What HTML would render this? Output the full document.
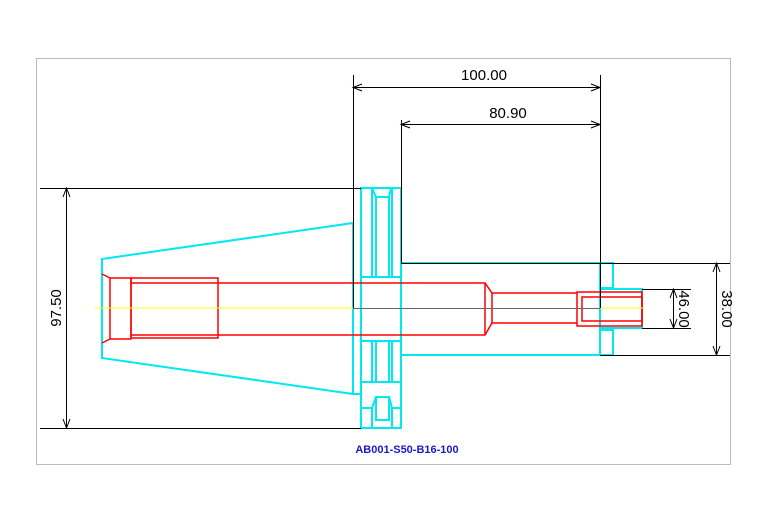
<!DOCTYPE html>
<html><head><style>body{margin:0;background:#fff}svg{display:block}</style></head><body>
<svg width="767" height="523" xmlns="http://www.w3.org/2000/svg" font-family="Liberation Sans, sans-serif">
<rect x="36.5" y="58.5" width="694" height="406" fill="none" stroke="#bbb"/>
<!-- cyan -->
<g fill="none" stroke="#00e8f0" stroke-width="2">
<polyline points="353,223 102,259 102,358 353,394"/>
<polyline points="353,223 353,394 361,394"/>
<rect x="361" y="188" width="40" height="240"/>
<polyline points="361,188 372,188 376,197 389,197 391,188"/>
<line x1="372" y1="188" x2="372" y2="277"/><line x1="376" y1="197" x2="376" y2="277"/>
<line x1="389" y1="197" x2="389" y2="277"/><line x1="392" y1="188" x2="392" y2="277"/>
<line x1="361" y1="277" x2="401" y2="277"/>
<line x1="361" y1="341" x2="401" y2="341"/><line x1="361" y1="382" x2="401" y2="382"/>
<line x1="372" y1="341" x2="372" y2="382"/><line x1="376" y1="341" x2="376" y2="382"/>
<line x1="389" y1="341" x2="389" y2="382"/><line x1="392" y1="341" x2="392" y2="382"/>
<polyline points="361,408 372,408 376,397 389,397 392,408 401,408"/>
<polyline points="372,408 372,428"/><polyline points="392,408 392,428"/>
<polyline points="376,397 376,420 389,420 389,397"/>
<line x1="401" y1="263" x2="600" y2="263"/>
<line x1="401" y1="355" x2="600" y2="355"/>
<polyline points="600,263 613,263 613,288 600,288"/>
<polyline points="600,330 613,330 613,355 600,355"/>
<polyline points="600,289 642,289 642,328 600,328"/>
<line x1="600" y1="263" x2="600" y2="355"/>
</g>
<!-- red -->
<g fill="none" stroke="#f00" stroke-width="1.5">
<rect x="110" y="278" width="21" height="61"/>
<rect x="131" y="278" width="87" height="60"/>
<line x1="102" y1="274" x2="110" y2="278"/><line x1="102" y1="343" x2="110" y2="339"/>
<polyline points="131,283 485,283 492,293 577,293"/>
<polyline points="131,335 485,335 492,323 577,323"/>
<line x1="485" y1="283" x2="485" y2="335"/><line x1="492" y1="293" x2="492" y2="323"/>
<rect x="577" y="292" width="65" height="34"/>
<rect x="582" y="297" width="60" height="24"/>
</g>
<!-- center -->
<line x1="95" y1="308" x2="353" y2="308" stroke="#ff0" stroke-width="1"/>
<line x1="600" y1="308" x2="644" y2="308" stroke="#ff0" stroke-width="1"/>
<g stroke="#000" stroke-width="1" fill="none">
<line x1="353" y1="308.5" x2="600" y2="308.5" stroke="#666"/>
<line x1="353.5" y1="75" x2="353.5" y2="308"/>
<line x1="600.5" y1="75" x2="600.5" y2="308"/>
<polyline points="401.5,120 401.5,263.5 600,263.5"/>
<line x1="40" y1="188.5" x2="361" y2="188.5"/>
<line x1="40" y1="428.5" x2="361" y2="428.5"/>
<line x1="66.5" y1="188" x2="66.5" y2="428"/>
<polyline points="63,197 66.5,188 70,197"/><polyline points="63,419 66.5,428 70,419"/>
<line x1="353" y1="87.5" x2="600" y2="87.5"/>
<polyline points="362,84 353,87.5 362,91"/><polyline points="591,84 600,87.5 591,91"/>
<line x1="401" y1="124.5" x2="600" y2="124.5"/>
<polyline points="410,121 401,124.5 410,128"/><polyline points="591,121 600,124.5 591,128"/>
<line x1="600" y1="263.5" x2="730" y2="263.5"/>
<line x1="600" y1="355.5" x2="730" y2="355.5"/>
<line x1="716.5" y1="263" x2="716.5" y2="355"/>
<polyline points="713,272 716.5,263 720,272"/><polyline points="713,346 716.5,355 720,346"/>
<line x1="642" y1="289.5" x2="691" y2="289.5"/>
<line x1="642" y1="328.5" x2="691" y2="328.5"/>
<line x1="673.5" y1="289" x2="673.5" y2="328"/>
<polyline points="670,298 673.5,289 677,298"/><polyline points="670,319 673.5,328 677,319"/>
</g>
<g font-size="15" fill="#000" text-anchor="middle">
<text x="484" y="80">100.00</text>
<text x="508" y="118">80.90</text>
<text transform="translate(61,308) rotate(-90)">97.50</text>
<text transform="translate(722,309) rotate(90)">38.00</text>
<text transform="translate(679,309) rotate(90)">46.00</text>
</g>
<text x="407" y="453" font-size="11" font-weight="bold" fill="#1a1acc" text-anchor="middle">AB001-S50-B16-100</text>
</svg>
</body></html>
